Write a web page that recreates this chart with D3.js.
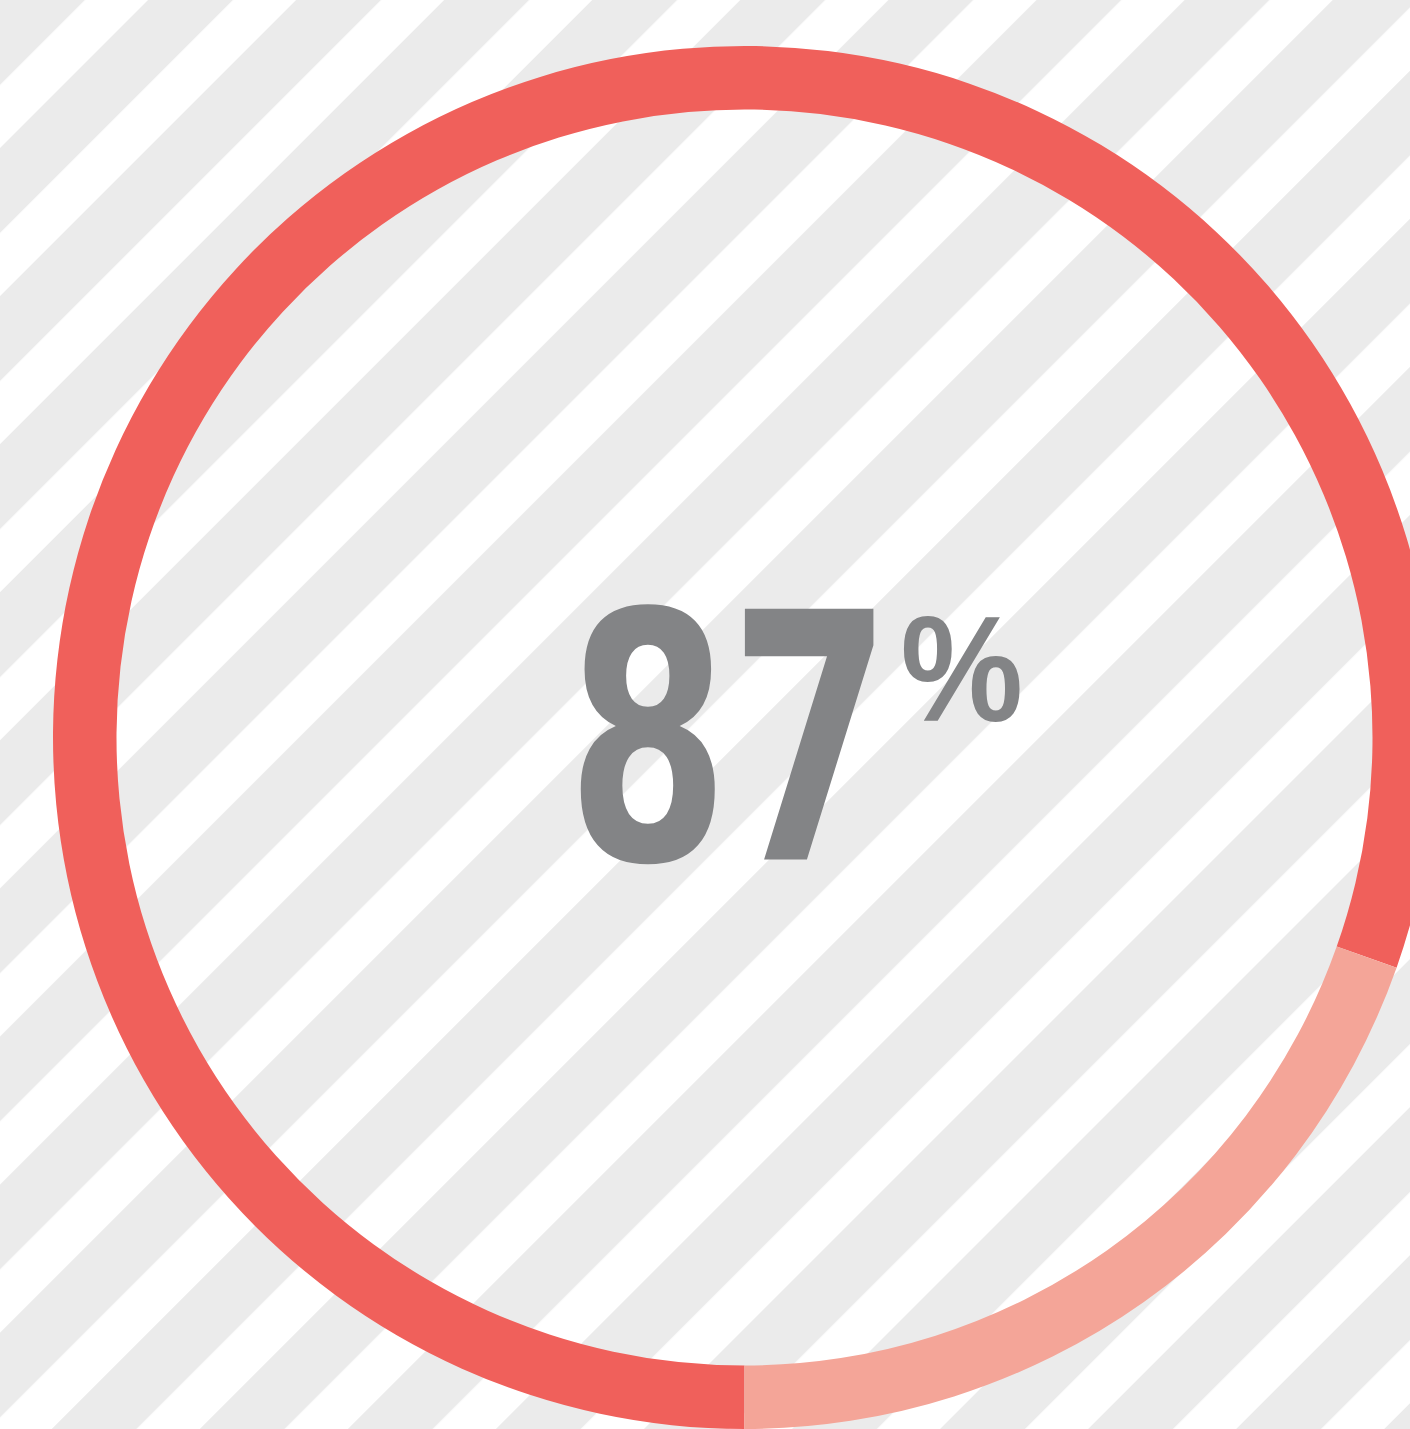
<!DOCTYPE html>
<html>
<head>
<meta charset="utf-8">
<script src="https://cdn.jsdelivr.net/npm/d3@7"></script>
<style>
    html, body { margin: 0; padding: 0; background: #ffffff; }
    svg { display: block; }
</style>
</head>
<body>
<div class="vis"></div>
<script>
(function () {
    const svgWidth = 1410;
    const svgHeight = 1429;

    // ring segments (share of the circle)
    var segments = ["Main", "Rest"];
    var segmentValues = [80.4, 19.6];
    var colours = ["#f0605b", "#f4a598"];

    // the big label
    var labelNumber = "87";
    var labelUnit = "%";

    var cx = 744.5;
    var cy = 737.5;
    var outerRadius = 691.5;
    var innerRadius = 628;

    const svg = d3.select('.vis')
        .append("svg")
            .attr('width', svgWidth)
            .attr('height', svgHeight);

    // diagonal stripes in the background
    var stripePeriod = 104.7;
    var defs = svg.append('defs');
    var pattern = defs.append('pattern')
        .attr('id', 'stripes')
        .attr('patternUnits', 'userSpaceOnUse')
        .attr('width', stripePeriod)
        .attr('height', 20)
        .attr('patternTransform', 'rotate(45)');
    pattern.append('rect')
        .attr('width', stripePeriod)
        .attr('height', 20)
        .attr('fill', '#ffffff');
    pattern.append('rect')
        .attr('width', 60)
        .attr('height', 20)
        .attr('fill', '#ebebeb');

    svg.append('rect')
        .attr('width', svgWidth)
        .attr('height', svgHeight)
        .attr('fill', 'url(#stripes)');

    var data = segments.map(function (s, i) {
        return { key: s, value: segmentValues[i] };
    });

    var color = d3.scaleOrdinal()
        .domain(segments)
        .range(colours);

    // starts at the bottom and runs clockwise
    var pie = d3.pie()
        .sort(null)
        .value(function (d) { return d.value; })
        .startAngle(Math.PI)
        .endAngle(3 * Math.PI);

    var arc = d3.arc()
        .innerRadius(innerRadius)
        .outerRadius(outerRadius);

    const graph = svg.append('g')
        .attr('transform', `translate(${cx}, ${cy})`);

    graph.selectAll('path')
        .data(pie(data))
        .enter().append('path')
            .attr('d', arc)
            .attr('fill', function (d) { return color(d.data.key); });

    // condensed look: squeeze the bold digits horizontally
    graph.append('text')
        .attr('transform', 'translate(-178, 122) scale(0.68, 1)')
        .attr('font-family', '"DejaVu Sans", sans-serif')
        .attr('font-weight', 'bold')
        .attr('font-size', 344)
        .attr('fill', '#838486')
        .text(labelNumber);

    graph.append('text')
        .attr('transform', 'translate(156, -17) scale(0.92, 1)')
        .attr('font-family', '"Liberation Sans", Arial, sans-serif')
        .attr('font-weight', 'bold')
        .attr('font-size', 150)
        .attr('fill', '#838486')
        .text(labelUnit);

} (d3));
</script>
</body>
</html>
